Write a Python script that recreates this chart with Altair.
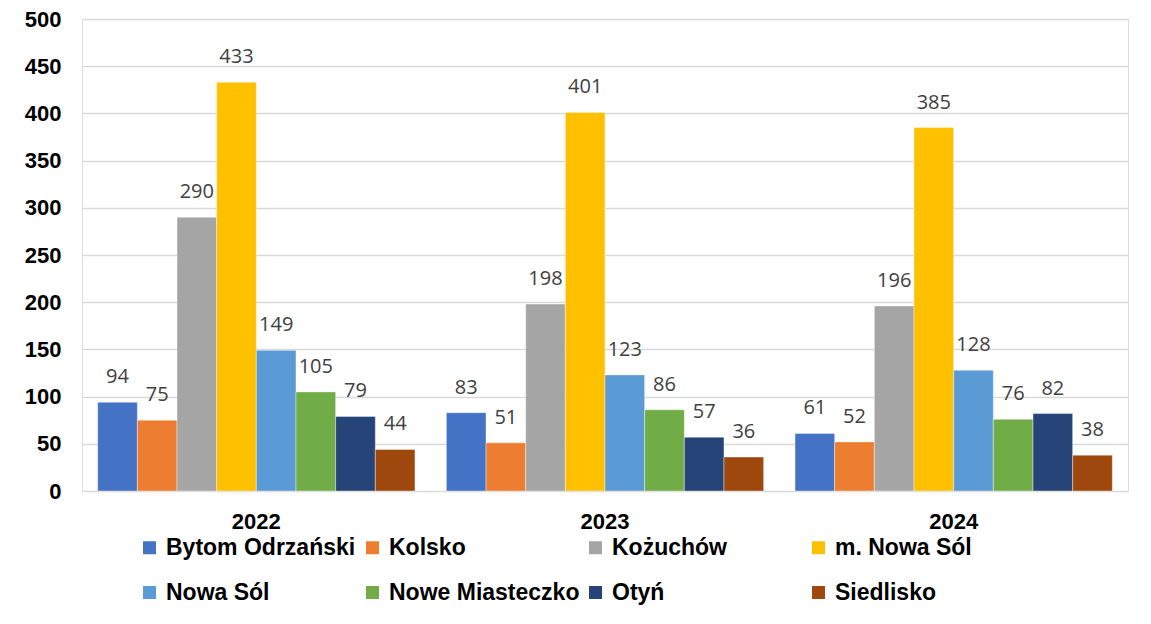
import altair as alt
import pandas as pd

years = ["2022", "2023", "2024"]
gminy = ["Bytom Odrzański", "Kolsko", "Kożuchów", "m. Nowa Sól",
         "Nowa Sól", "Nowe Miasteczko", "Otyń", "Siedlisko"]
v2022 = [94, 75, 290, 433, 149, 105, 79, 44]
v2023 = [83, 51, 198, 401, 123, 86, 57, 36]
v2024 = [61, 52, 196, 385, 128, 76, 82, 38]
colors = ["#4472C4", "#ED7D31", "#A5A5A5", "#FFC000",
          "#5B9BD5", "#70AD47", "#264478", "#9E480E"]
y_ticks = list(range(0, 501, 50))

rows = []
for yr, vals in zip(years, [v2022, v2023, v2024]):
    for g, v in zip(gminy, vals):
        rows.append({"rok": yr, "gmina": g, "wartosc": v})
df = pd.DataFrame(rows)

x_enc = alt.X(
    "rok:N", sort=years,
    scale=alt.Scale(paddingInner=0.09, paddingOuter=0.045),
    axis=alt.Axis(title=None, labelAngle=0, labelFont="Liberation Sans",
                  labelFontWeight="bold", labelFontSize=22, labelColor="black",
                  labelPadding=20, domain=False, ticks=False, grid=False),
)
xo_enc = alt.XOffset("gmina:N", sort=gminy,
                     scale=alt.Scale(domain=gminy, paddingInner=0, paddingOuter=0))
y_enc = alt.Y(
    "wartosc:Q",
    scale=alt.Scale(domain=[0, 500], nice=False),
    axis=alt.Axis(title=None, values=y_ticks, labelFont="Liberation Sans",
                  labelFontWeight="bold", labelFontSize=22, labelColor="black",
                  labelPadding=21, domain=False, ticks=False, grid=True,
                  gridColor="#d9d9d9", gridWidth=1.5),
)

bars = alt.Chart(df).mark_bar(stroke="white", strokeWidth=0.4).encode(
    x=x_enc,
    xOffset=xo_enc,
    y=y_enc,
    color=alt.Color(
        "gmina:N", sort=gminy,
        scale=alt.Scale(domain=gminy, range=colors),
        legend=alt.Legend(
            title=None, orient="none", legendX=56, legendY=517,
            direction="horizontal", columns=4, gridAlign="all",
            symbolType="square", symbolSize=169, symbolStrokeWidth=0,
            labelFont="Liberation Sans", labelFontWeight="bold",
            labelFontSize=23, labelColor="black", labelOffset=5,
            labelLimit=400, columnPadding=4, rowPadding=21, padding=0,
        ),
    ),
)

labels = alt.Chart(df).mark_text(
    dy=-25, font="Open Sans", fontSize=20, color="#404040", baseline="middle"
).encode(
    x=x_enc,
    xOffset=xo_enc,
    y=y_enc,
    text="wartosc:Q",
)

chart = alt.layer(bars, labels).properties(
    width=1046, height=472,
    padding={"left": 74, "top": 11, "right": 10, "bottom": 120},
    autosize=alt.AutoSizeParams(type="none"),
).configure_view(stroke=None).configure(background="white")

chart.save("out.html", embed_options={"renderer": "svg", "actions": False})
